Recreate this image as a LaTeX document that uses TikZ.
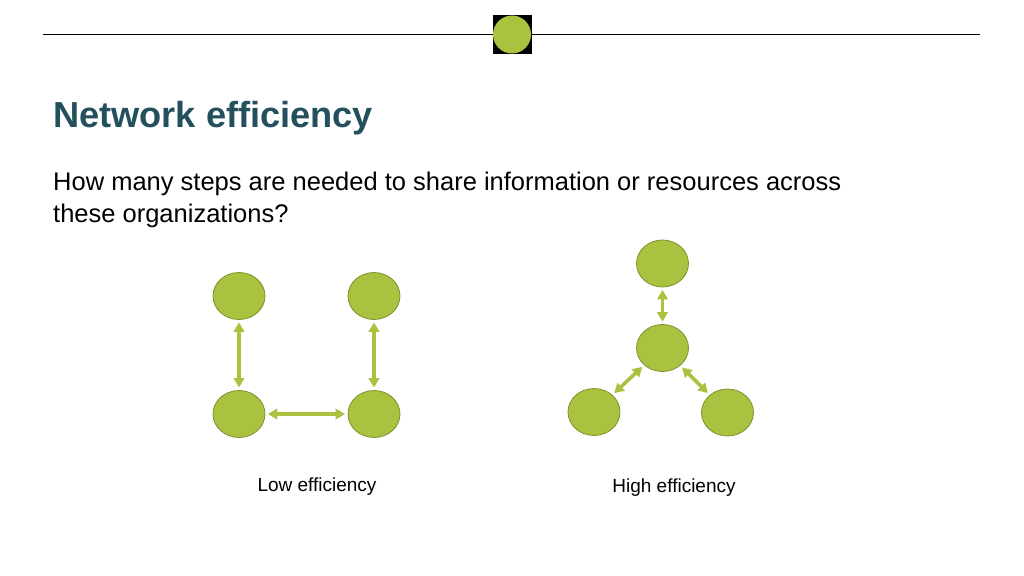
\documentclass[tikz,border=0pt]{standalone}
\usepackage{fontspec}
\setmainfont{Liberation Sans}
\usetikzlibrary{arrows.meta,shapes.geometric}
\definecolor{leaf}{HTML}{A9C23F}
\definecolor{leafdark}{HTML}{7E9130}
\definecolor{titleteal}{HTML}{23505C}
\tikzset{
  org/.style={ellipse,fill=leaf,draw=leafdark,line width=0.8pt,minimum width=52pt,minimum height=47pt,inner sep=0pt},
  link/.style={draw=leaf,line width=3.6pt,{Triangle[width=10.5pt,length=9.5pt]}-{Triangle[width=10.5pt,length=9.5pt]},shorten <=2.5pt,shorten >=2.5pt},
  lbl/.style={font=\fontsize{19}{23}\selectfont,anchor=base,inner sep=0pt}
}
\begin{document}
\begin{tikzpicture}[x=1pt,y=-1pt]
\useasboundingbox (0,0) rectangle (1024,575);
% header
\coordinate (hl) at (43,35);
\coordinate (hr) at (980,35);
\draw[line width=1pt,black] (hl) -- (hr);
\node[fill=black,minimum size=39pt,inner sep=0pt] (sq) at (512,34.5) {};
\node[circle,fill=leaf,minimum size=38pt,inner sep=0pt] (dot) at (sq.center) {};
% title and text
\node[anchor=base west,inner sep=0pt,text=titleteal,font=\fontsize{36.2}{40}\selectfont\bfseries] (title) at (53,128) {Network efficiency};
\node[anchor=base west,inner sep=0pt,font=\fontsize{25.5}{33}\selectfont] (q1) at (53,190) {How many steps are needed to share information or resources across};
\node[anchor=base west,inner sep=0pt,font=\fontsize{25.5}{33}\selectfont] (q2) at (53,222) {these organizations?};
% low efficiency
\node[org] (a) at (239,296) {};
\node[org] (b) at (374,296) {};
\node[org] (c) at (239,414) {};
\node[org] (d) at (374,414) {};
\draw[link] (a) -- (c);
\draw[link] (b) -- (d);
\draw[link] (c) -- (d);
\node[lbl] (low) at (317,491) {Low efficiency};
% high efficiency
\node[org] (t) at (662.5,263.5) {};
\node[org] (m) at (662.5,348) {};
\node[org] (l) at (594,412) {};
\node[org] (r) at (727.5,412.5) {};
\draw[link] (t) -- (m);
\draw[link] (m) -- (l);
\draw[link] (m) -- (r);
\node[lbl] (high) at (674,492) {High efficiency};
\end{tikzpicture}
\end{document}
